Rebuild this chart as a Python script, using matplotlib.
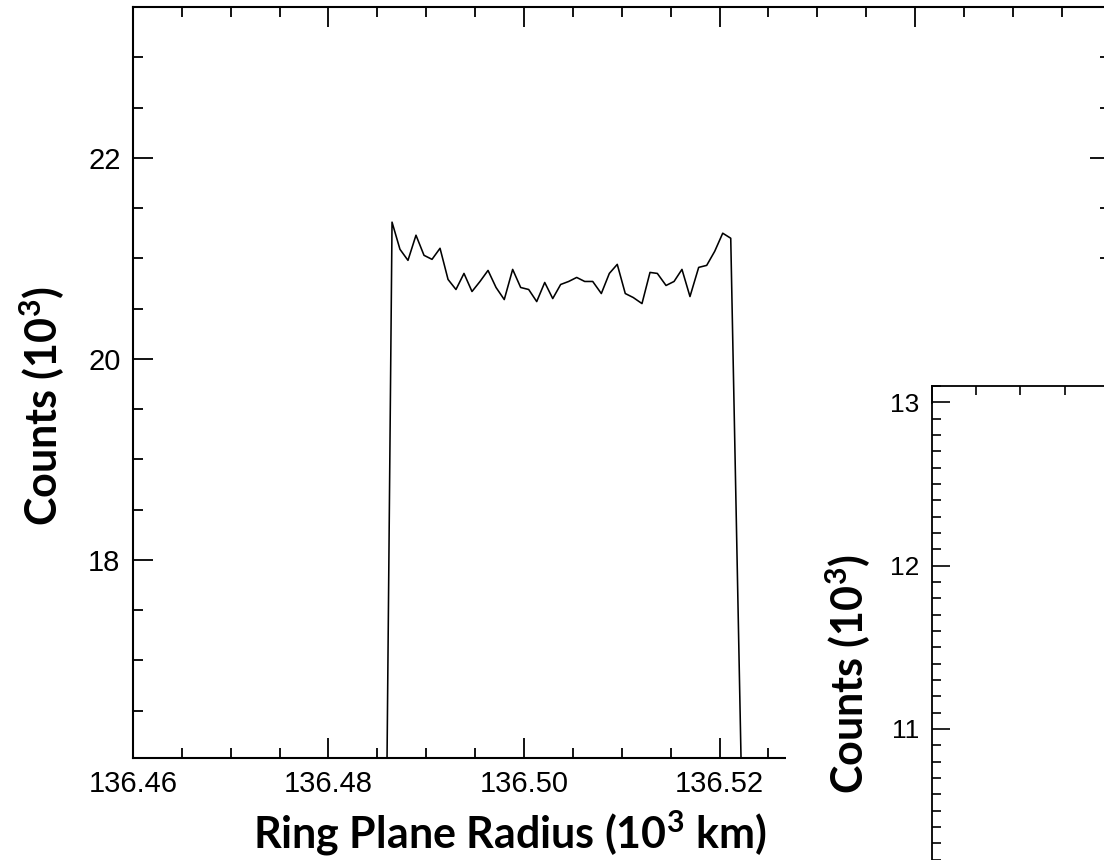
import matplotlib
matplotlib.use("Agg")
import matplotlib.pyplot as plt
from matplotlib.ticker import MultipleLocator, FuncFormatter
from matplotlib.patches import Rectangle

# ---------------- data ----------------
radius = [136.48565,
          136.48650, 136.48731, 136.48813, 136.48895, 136.48977, 136.49059,
          136.49141, 136.49223, 136.49304, 136.49386, 136.49468, 136.49550,
          136.49632, 136.49714, 136.49798, 136.49884, 136.49966, 136.50048,
          136.50130, 136.50212, 136.50294, 136.50375, 136.50457, 136.50539,
          136.50621, 136.50703, 136.50791, 136.50873, 136.50954, 136.51036,
          136.51118, 136.51207, 136.51289, 136.51364, 136.51453, 136.51535,
          136.51616, 136.51698, 136.51787, 136.51869, 136.51951, 136.52033,
          136.52115,
          136.52292]
counts = [12.5,
          21.36, 21.09, 20.98, 21.23, 21.03, 20.99,
          21.10, 20.79, 20.69, 20.85, 20.67, 20.77,
          20.88, 20.71, 20.59, 20.89, 20.71, 20.69,
          20.57, 20.76, 20.60, 20.74, 20.77, 20.81,
          20.77, 20.77, 20.65, 20.85, 20.94, 20.65,
          20.61, 20.55, 20.86, 20.85, 20.73, 20.77,
          20.89, 20.62, 20.91, 20.93, 21.07, 21.25,
          21.20,
          12.5]

main_xlim = (136.46, 136.56)
main_ylim = (16.03, 23.5)
main_xlabels_upto = 136.525      # labels right of this are hidden in the picture
inset_xlim = (0, 20)
inset_ylim = (9.5, 13.1)
inset_ylabels_from = 10.5        # labels below this are outside the picture

xlabel = r"Ring Plane Radius (10$^{\mathbf{3}}$ km)"
ylabel = r"Counts (10$^{\mathbf{3}}$)"

# ---------------- figure ----------------
plt.rcParams["mathtext.fontset"] = "custom"
plt.rcParams["mathtext.bf"] = "Lato:bold"
plt.rcParams["mathtext.rm"] = "Lato:bold"

W, H = 1104, 860
fig = plt.figure(figsize=(W / 100, H / 100), dpi=100)

TICK_FONT = "Liberation Sans"
LABEL_FONT = "Lato"

def px_rect(x0, y0, x1, y1):
    """pixel box (top-left origin) -> figure fraction rect"""
    return [x0 / W, 1 - y1 / H, (x1 - x0) / W, (y1 - y0) / H]

# main axes
ax = fig.add_axes(px_rect(133, 7, 1110.5, 758), zorder=0)
ax.plot(radius, counts, color="black", lw=1.15)
ax.set_xlim(*main_xlim)
ax.set_ylim(*main_ylim)
ax.xaxis.set_major_locator(MultipleLocator(0.02))
ax.xaxis.set_minor_locator(MultipleLocator(0.005))
ax.yaxis.set_major_locator(MultipleLocator(2))
ax.yaxis.set_minor_locator(MultipleLocator(0.5))
ax.xaxis.set_major_formatter(FuncFormatter(
    lambda v, p: f"{v:.2f}" if v < main_xlabels_upto else ""))
ax.yaxis.set_major_formatter(FuncFormatter(lambda v, p: f"{v:.0f}"))
ax.tick_params(which="both", direction="in", top=True, right=True,
               width=1.3, color="black")
ax.tick_params(which="major", length=14.5, labelsize=21, pad=9)
ax.tick_params(which="minor", length=7.2)
for lab in ax.get_xticklabels() + ax.get_yticklabels():
    lab.set_fontfamily(TICK_FONT)
for s in ax.spines.values():
    s.set_linewidth(1.5)

fig.text(42 / W, 1 - 406 / H, ylabel, rotation=90, ha="center", va="center",
         fontfamily=LABEL_FONT, fontweight="bold", fontsize=31)
fig.text(510 / W, 1 - 849 / H, xlabel, ha="center", va="baseline",
         fontfamily=LABEL_FONT, fontweight="bold", fontsize=31)

# white panel covering the lower right part of the main plot
fig.add_artist(Rectangle((786 / W, 0), (W - 786) / W, (H - 285) / H,
                         transform=fig.transFigure, facecolor="white",
                         edgecolor="none", zorder=1))

# inset axes (partly outside the image)
ins = fig.add_axes(px_rect(931.7, 386, 931.7 + 886, 974), zorder=2)
ins.set_xlim(*inset_xlim)
ins.set_ylim(*inset_ylim)
ins.xaxis.set_major_locator(MultipleLocator(5))
ins.xaxis.set_minor_locator(MultipleLocator(1))
ins.yaxis.set_major_locator(MultipleLocator(1))
ins.yaxis.set_minor_locator(MultipleLocator(0.1))
ins.yaxis.set_major_formatter(FuncFormatter(
    lambda v, p: f"{v:.0f}" if v > inset_ylabels_from else ""))
ins.tick_params(which="both", direction="in", top=True, right=True,
                width=1.2, color="black", labelbottom=False)
ins.tick_params(which="major", length=13, labelsize=19, pad=9)
ins.tick_params(which="minor", length=6.3)
for lab in ins.get_yticklabels():
    lab.set_fontfamily(TICK_FONT)
for s in ins.spines.values():
    s.set_linewidth(1.3)

fig.text(848 / W, 1 - 674 / H, ylabel, rotation=90, ha="center", va="center",
         fontfamily=LABEL_FONT, fontweight="bold", fontsize=31, zorder=3)

fig.savefig("out.png", dpi=100)
